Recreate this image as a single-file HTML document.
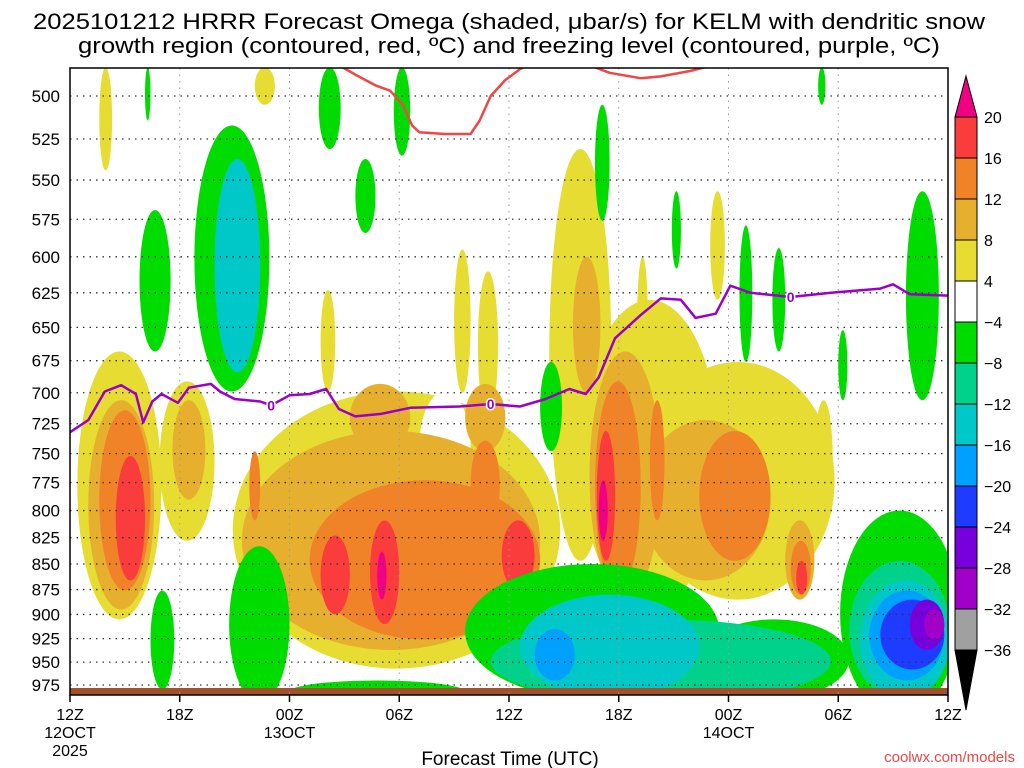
<!DOCTYPE html>
<html><head><meta charset="utf-8">
<style>
html,body{margin:0;padding:0;background:#fff;}
svg{display:block;font-family:"Liberation Sans",sans-serif;}
</style></head>
<body>
<svg id="chart" width="1024" height="768" viewBox="0 0 1024 768" xmlns="http://www.w3.org/2000/svg">
  <defs><clipPath id="plotclip"><rect x="70" y="68" width="878" height="627"/></clipPath></defs>
  <text x="509" y="29" font-size="22" text-anchor="middle" textLength="952" lengthAdjust="spacingAndGlyphs" fill="#000">2025101212 HRRR Forecast Omega (shaded, μbar/s) for KELM with dendritic snow</text>
  <text x="509" y="53" font-size="22" text-anchor="middle" textLength="862" lengthAdjust="spacingAndGlyphs" fill="#000">growth region (contoured, red, ºC) and freezing level (contoured, purple, ºC)</text>
  <g id="shading" clip-path="url(#plotclip)"></g>
  <rect x="70" y="688" width="878" height="7" fill="#a0522d"/>
  <g id="grid"></g>
  <g id="lines" clip-path="url(#plotclip)"></g>
  <rect x="70" y="68" width="878" height="627" fill="none" stroke="#000" stroke-width="1.5"/>
  <g id="yaxis"></g>
  <g id="xaxis"></g>
  <text x="510" y="765" font-size="19" text-anchor="middle">Forecast Time (UTC)</text>
  <text x="1015" y="762" font-size="15" text-anchor="end" fill="#f04646">coolwx.com/models</text>
  <g id="colorbar"></g>
</svg>
<script>
// ---- axis data ----
const pressureTicks = [500,525,550,575,600,625,650,675,700,725,750,775,800,825,850,875,900,925,950,975];
const timeTickHours = [0,6,12,18,24,30,36,42,48];
const timeTickLabels = ["12Z","18Z","00Z","06Z","12Z","18Z","00Z","06Z","12Z"];
const dateLabelHours = [0,12,36];
const dateLabels = ["12OCT","13OCT","14OCT"];
// ---- freezing level (0C) ----
const fzHours = [0,1,1.9,2.8,3.6,4,4.5,5,5.9,6.5,7.7,8.2,9,10.4,11,12,13.1,14,14.7,15.6,17,18.6,21.3,23,24.6,26,27.3,28.2,28.9,29.8,31.2,32.3,33.4,34.2,35.3,36.1,37.2,39.4,41.6,44.3,45,45.9,48];
const fzPress = [732,722,699,694,701,724,707,701,708,696,693,699,705,707,710,702,701,697,713,719,717,712,711,709,711,705,697,701,688,658,641,629,630,643,640,620,625,628,625,622,619,626,627];
const fzLabelHours = [11,23,39.4];
// ---- dendritic growth region (red) ----
const dgzHours = [14.9,15.6,16.7,17.5,18.2,18.7,19.1,20.5,21.9,22.4,23,23.8,24.6,26,27.5,28.7,29.5,31.2,32.3,33.9,34.7,35.5];
const dgzPress = [484,488,494,497,505,517,521,522,522,514,500,491,485,478,478,484,487,490,489,486,484,480];
// ---- omega shaded regions: time range (h), pressure range (hPa), level ----
const blobT0 = [0.4,4.9,8.9,26.2,27.9,31.2,21.0,22.3,1.6,10.1,13.7,40.7,35.0,31.0, 19.1,
  1.0,5.6,9.4,15.3,21.6,28.4,31.2,39.1,27.5,
  1.6,9.8,13.1,21.9,28.7,34.4,39.4,31.7,
  2.5,13.7,16.4,23.6,28.8,39.7,
  16.8,28.9,
  6.8,3.8,4.1,13.6,15.6,17.7,28.7,25.7,36.6,38.4,45.7,42.0,40.9,32.9,21.6,34.4,42.1,8.7,4.4,12.0,
  23.0,42.6,7.9,
  24.6,43.2,8.6,
  25.4,43.7,
  44.3,45.9,46.7];
const blobT1 = [5.0,7.9,26.8,29.6,35.5,41.8,21.9,23.4,2.3,11.2,14.5,41.7,35.8,31.6, 21.9,
  4.6,7.4,25.7,18.6,23.8,32.3,38.3,40.7,29.0,
  4.4,10.4,25.7,23.5,31.2,38.3,40.5,32.5,
  4.1,15.3,18.0,25.4,29.8,40.3,
  17.3,29.4,
  10.9,5.5,4.4,14.8,16.7,18.6,29.5,26.9,37.3,39.1,47.5,42.5,41.3,33.4,35.5,42.6,48.6,12.0,5.7,21.6,
  41.6,48.1,10.4,
  34.4,48.1,9.8,
  27.6,47.8,
  47.8,47.8,47.8];
const blobP0 = [668,691,699,531,630,676,595,610,484,484,623,706,557,600, 699,
  706,706,731,693,693,668,722,809,600,
  714,748,773,739,691,731,828,706,
  752,823,809,809,731,847,
  838,773,
  517,569,484,484,537,484,505,676,579,594,557,652,484,557,850,905,800,833,876,970,
  905,847,537,
  880,866,590,
  915,876,
  885,885,895];
const blobP1 = [905,828,957,847,895,885,700,720,544,505,699,809,630,700, 790,
  895,790,937,748,748,885,866,885,700,
  876,809,926,816,876,847,880,809,
  866,900,910,876,847,880,
  885,828,
  699,668,514,531,584,535,576,748,676,668,706,706,505,608,990,990,1010,995,980,995,
  995,990,684,
  990,990,650,
  970,970,
  958,937,926];
const blobLevel = [1,1,1,1,1,1,1,1,1,1,1,1,1,1, 0,
  2,2,2,2,2,2,2,2,2,
  3,3,3,3,3,3,3,3,
  4,4,4,4,4,4,
  5,5,
  -1,-1,-1,-1,-1,-1,-1,-1,-1,-1,-1,-1,-1,-1,-1,-1,-1,-1,-1,-1,
  -2,-2,-3,
  -3,-3,-3,
  -4,-4,
  -5,-6,-7];
// ---- colorbar ----
const cbLabels = ["20","16","12","8","4","−4","−8","−12","−16","−20","−24","−28","−32","−36"];

const levelColor = {"5":"#f00082","4":"#fa3c3c","3":"#f08228","2":"#e6af2d","1":"#e6dc32","0":"#ffffff",
  "-1":"#00dc00","-2":"#00d28c","-3":"#00c8c8","-4":"#00a0ff","-5":"#1e3cff","-6":"#7800dc","-7":"#a000c8","-8":"#a0a0a0"};
const cbColors = ["#fa3c3c","#f08228","#e6af2d","#e6dc32","#ffffff","#00dc00","#00d28c","#00c8c8","#00a0ff","#1e3cff","#7800dc","#a000c8","#a0a0a0"];

const NS = "http://www.w3.org/2000/svg";
const X0 = 70, X1 = 948;
function xOf(h){ return X0 + h*(X1-X0)/48; }
function yOf(p){ return 96 + 882*Math.log(p/500); }
function mk(tag, attrs, parent){ const e=document.createElementNS(NS,tag); for(const k in attrs) e.setAttribute(k,attrs[k]); parent.appendChild(e); return e; }

// shading
const sh = document.getElementById('shading');
for(let i=0;i<blobLevel.length;i++){
  const cx=(xOf(blobT0[i])+xOf(blobT1[i]))/2, rx=(xOf(blobT1[i])-xOf(blobT0[i]))/2;
  const yt=yOf(blobP0[i]), yb=yOf(blobP1[i]);
  const cy=(yt+yb)/2, ry=(yb-yt)/2;
  const e=mk('ellipse',{cx:cx,cy:cy,rx:Math.max(rx,1),ry:Math.max(ry,1),fill:levelColor[String(blobLevel[i])]},sh);
  
  
}

// grid
const grid=document.getElementById('grid');
pressureTicks.forEach(p=>{
  const l=mk('line',{x1:X0,x2:X1,y1:yOf(p),y2:yOf(p),stroke:'#333','stroke-width':1.3,'stroke-dasharray':'1.5 5'},grid);
  
  
});
timeTickHours.forEach(h=>{
  const l=mk('line',{x1:xOf(h),x2:xOf(h),y1:68,y2:695,stroke:'#999','stroke-width':1,'stroke-dasharray':'1.5 5'},grid);
  
  
});

// lines
const ln=document.getElementById('lines');
function polyPts(hs,ps){ return hs.map((h,i)=>xOf(h).toFixed(1)+','+yOf(ps[i]).toFixed(1)).join(' '); }
const dg=mk('polyline',{points:polyPts(dgzHours,dgzPress),fill:'none',stroke:'#f04646','stroke-width':2.5,'stroke-linejoin':'round'},ln);


const fz=mk('polyline',{points:polyPts(fzHours,fzPress),fill:'none',stroke:'#9b00c8','stroke-width':2.5,'stroke-linejoin':'round'},ln);


fzLabelHours.forEach(h=>{
  let j=0; while(j<fzHours.length-1 && fzHours[j+1]<h) j++;
  const f=(h-fzHours[j])/(fzHours[j+1]-fzHours[j]);
  const p=fzPress[j]+f*(fzPress[j+1]-fzPress[j]);
  const t=mk('text',{x:xOf(h),y:yOf(p)+5,'font-size':14,'font-weight':'bold','text-anchor':'middle',fill:'#9b00c8',stroke:'#fff','stroke-width':3,'paint-order':'stroke'},ln);
  t.textContent='0';
  
  
});

// y axis
const ya=document.getElementById('yaxis');
pressureTicks.forEach(p=>{
  const t=mk('text',{x:60,y:yOf(p)+6,'font-size':17,'text-anchor':'end',fill:'#000'},ya);
  t.textContent=p;
  
  
});
// x axis
const xa=document.getElementById('xaxis');
timeTickHours.forEach((h,i)=>{
  const tk=mk('line',{x1:xOf(h),x2:xOf(h),y1:695,y2:702,stroke:'#000','stroke-width':1.5},xa);
  
  
  const t=mk('text',{x:xOf(h),y:720,'font-size':16,'text-anchor':'middle'},xa);
  t.textContent=timeTickLabels[i];
  
  
});
dateLabelHours.forEach((h,i)=>{
  const t=mk('text',{x:xOf(h),y:738,'font-size':16,'text-anchor':'middle'},xa);
  t.textContent=dateLabels[i];
  
  
});
const yr=mk('text',{x:xOf(0),y:756,'font-size':16,'text-anchor':'middle'},xa);
yr.textContent='2025';



// colorbar
const cb=document.getElementById('colorbar');
const cbTop=117, cbStep=(650-117)/13, cbx=955, cbw=22;
const up=mk('polygon',{points:`${cbx},${cbTop} ${cbx+cbw},${cbTop} ${cbx+cbw/2},76`,fill:'#f00082',stroke:'#000'},cb);


cbColors.forEach((c,i)=>{
  const r=mk('rect',{x:cbx,y:cbTop+i*cbStep,width:cbw,height:cbStep,fill:c,stroke:'#000','stroke-width':1},cb);
  
  
});
const dn=mk('polygon',{points:`${cbx},650 ${cbx+cbw},650 ${cbx+cbw/2},710`,fill:'#000',stroke:'#000'},cb);


cbLabels.forEach((s,i)=>{
  const t=mk('text',{x:984,y:cbTop+i*cbStep+6,'font-size':16},cb);
  t.textContent=s;
  
  
});
</script>
</body></html>
